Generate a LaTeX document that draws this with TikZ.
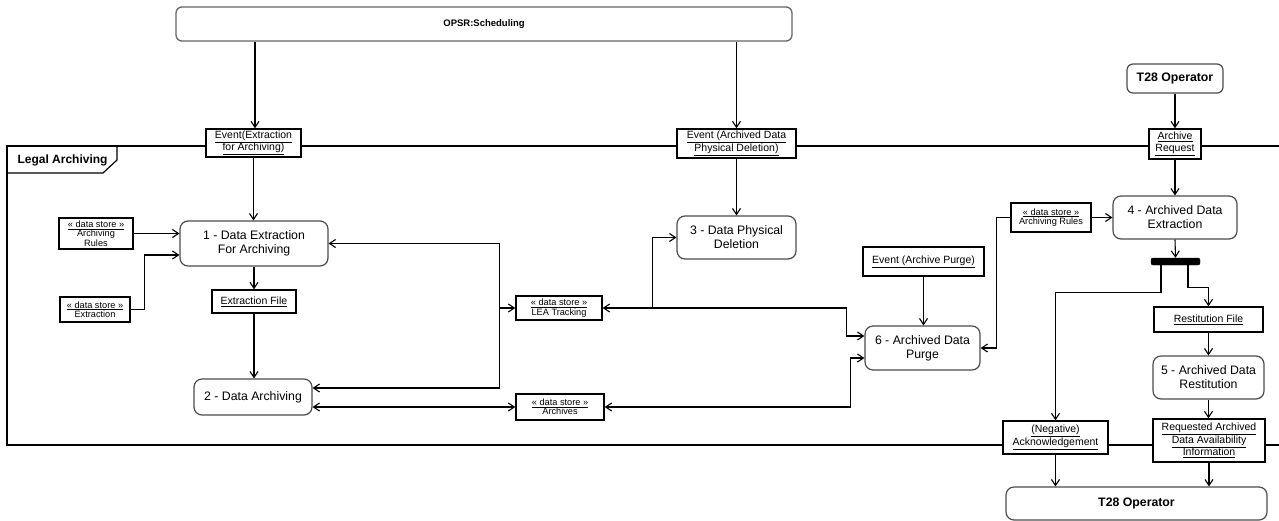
\documentclass[tikz,border=0pt]{standalone}
\usepackage{fontspec}
\setmainfont{Liberation Sans}
\usetikzlibrary{arrows.meta}
\newcommand\fnode{\fontsize{12.3}{14}\selectfont}
\newcommand\fobj{\fontsize{10.5}{12.5}\selectfont}
\newcommand\fds{\fontsize{9.2}{9.4}\selectfont}
\newcommand\ul[1]{\underline{#1}}
\begin{document}
\begin{tikzpicture}[x=1pt,y=-1pt,
  act/.style={draw=black!70, line width=1.2pt, rounded corners=8pt, fill=white, align=center, inner sep=0pt, font=\fnode},
  obj/.style={draw=black, line width=1.4pt, fill=white, align=center, inner sep=0pt, font=\fobj},
  dstore/.style={draw=black, line width=1.4pt, fill=white, align=center, inner sep=0pt, font=\fds},
  flow/.style={line width=1.1pt, -{Straight Barb[length=6pt,width=8pt]}},
  flowb/.style={line width=1.1pt, {Straight Barb[length=6pt,width=8pt]}-{Straight Barb[length=6pt,width=8pt]}},
  plain/.style={line width=1.2pt}
]
\useasboundingbox (0,0) rectangle (1279,520);
% frame
\draw[plain] (1285,146) -- (7,146) -- (7,445) -- (1285,445);
\draw[plain] (7,173) -- (103,173) -- (117,160) -- (117,146);
\node[font=\fontsize{12}{14}\selectfont\bfseries, anchor=west] (legal) at (14,160) {Legal Archiving};

% top
\node[act, draw=black!60, line width=1.3pt, rounded corners=6pt, minimum width=616pt, minimum height=34pt, font=\fontsize{9.5}{11}\selectfont\bfseries] (opsr) at (484,24) {OPSR:Scheduling};
\node[act, rounded corners=6pt, minimum width=96pt, minimum height=29pt, font=\fontsize{12.3}{14}\selectfont\bfseries] (t28a) at (1175,78.5) {T28 Operator};

% objects on frame
\node[obj, minimum width=95pt, minimum height=28pt] (evE) at (253.5,143) {\ul{Event(Extraction}\\\ul{for Archiving)}};
\node[obj, minimum width=119pt, minimum height=29pt] (evD) at (736.5,143.5) {\ul{Event (Archived Data}\\\ul{Physical Deletion)}};
\node[obj, minimum width=52pt, minimum height=30pt] (ar) at (1175,144) {\ul{Archive}\\\ul{Request}};
\node[obj, minimum width=105pt, minimum height=33pt] (ack) at (1055.5,437.5) {\ul{(Negative)}\\\ul{Acknowledgement}};
\node[obj, minimum width=112pt, minimum height=43pt] (req) at (1209,440.5) {\ul{Requested Archived}\\\ul{Data Availability}\\\ul{Information}};

% activities
\node[act, minimum width=148pt, minimum height=45pt] (n1) at (254,243.5) {1 - Data Extraction\\For Archiving};
\node[act, minimum width=118pt, minimum height=36pt] (n2) at (253,397) {2 - Data Archiving};
\node[act, minimum width=119pt, minimum height=43pt] (n3) at (736.5,237.5) {3 - Data Physical\\Deletion};
\node[act, minimum width=124pt, minimum height=43pt] (n4) at (1175,217.5) {4 - Archived Data\\Extraction};
\node[act, minimum width=111pt, minimum height=43pt] (n5) at (1208.5,377.5) {5 - Archived Data\\Restitution};
\node[act, minimum width=115pt, minimum height=44pt] (n6) at (922.5,348) {6 - Archived Data\\Purge};

% data stores and objects
\node[dstore, minimum width=74pt, minimum height=31pt] (dsAR1) at (96,233.5) {\ul{« data store »}\\Archiving\\Rules};
\node[dstore, minimum width=70pt, minimum height=25pt] (dsEx) at (95,309.5) {\ul{« data store »}\\Extraction};
\node[obj, minimum width=84pt, minimum height=23pt] (exf) at (254,301.5) {\ul{Extraction File}};
\node[dstore, minimum width=86pt, minimum height=24pt] (lea) at (559,308) {\ul{« data store »}\\LEA Tracking};
\node[dstore, minimum width=88pt, minimum height=26pt] (arch) at (560,407) {\ul{« data store »}\\Archives};
\node[obj, minimum width=121pt, minimum height=29pt] (evP) at (923.5,261.5) {\ul{Event (Archive Purge)}};
\node[dstore, minimum width=80pt, minimum height=29pt] (dsAR2) at (1051,217.5) {\ul{« data store »}\\Archiving Rules};
\node[obj, minimum width=109pt, minimum height=25pt] (rf) at (1208.5,319.5) {\ul{Restitution File}};
\node[draw=black, fill=black, rounded corners=2pt, minimum width=49pt, minimum height=7pt, inner sep=0pt] (bar) at (1175.5,261.5) {};
\node[act, rounded corners=8pt, minimum width=261pt, minimum height=33pt, font=\fontsize{12.3}{14}\selectfont\bfseries] (t28b) at (1136.5,503.5) {T28 Operator};

% connectors
\draw[flow] (opsr.south -| 255,0) -- (255,0 |- evE.north);
\draw[flow] (opsr.south -| evD.north) -- (evD.north);
\draw[flow] (evE.south) -- (evE.south |- n1.north);
\draw[flow] (evD.south) -- (n3.north);
\draw[flow] (t28a.south) -- (ar.north);
\draw[flow] (ar.south) -- (n4.north);
\draw[flow] (dsAR1.east) -- (dsAR1.east -| n1.west);
\draw[flow] (dsEx.east) -- ++(14,0) |- ([yshift=-11.5pt]n1.west);
\draw[flow] (n1.south) -- (exf.north);
\draw[flow] (exf.south) -- (exf.south |- n2.north);
\draw[flow] ([xshift=-16pt]lea.west) |- (n1.east);
\draw[flow] ([xshift=-16pt]lea.west) |- ([yshift=9pt]n2.east);
\draw[flow] ([xshift=-16pt]lea.west) -- (lea.west);
\draw[flowb] ([yshift=-10pt]n2.east) -- (arch.west);
\draw[flowb] (arch.east) -| ([xshift=-14pt,yshift=-10pt]n6.west) -- ([yshift=-10pt]n6.west);
\draw[flowb] (lea.east) -| ([xshift=-18pt,yshift=12pt]n6.west) -- ([yshift=12pt]n6.west);
\draw[flow] ([xshift=50pt]lea.east) |- (n3.west);
\draw[flow] (evP.south) -- (evP.south |- n6.north);
\draw[flow] (dsAR2.west) -| ([xshift=16pt]n6.east) -- (n6.east);
\draw[flow] (dsAR2.east) -- (dsAR2.east -| n4.west);
\draw[flow] (n4.south) -- (bar.north);
\draw[flow] ([xshift=-14.5pt]bar.south) -- ++(0,27) -| (ack.north);
\draw[flow] ([xshift=12.5pt]bar.south) -- ++(0,22) -| (rf.north);
\draw[flow] (rf.south) -- (rf.south |- n5.north);
\draw[flow] (n5.south) -- (n5.south |- req.north);
\draw[flow] (ack.south) -- (ack.south |- t28b.north);
\draw[flow] (req.south) -- (req.south |- t28b.north);
\end{tikzpicture}
\end{document}
